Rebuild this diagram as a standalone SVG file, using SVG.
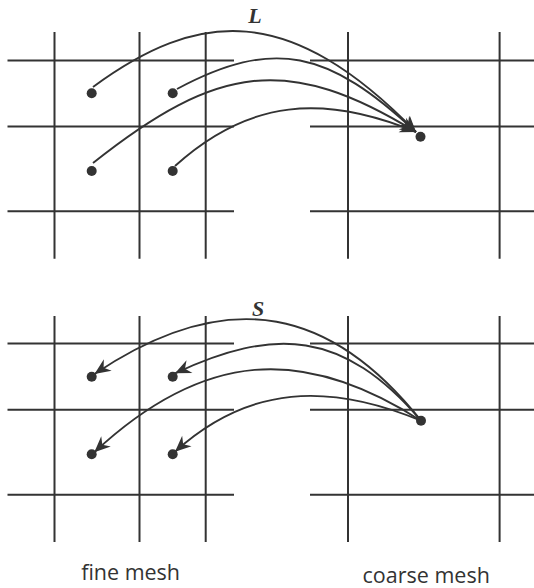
<svg xmlns="http://www.w3.org/2000/svg" width="534" height="588" viewBox="0 0 534 588">
<defs>
<style>
.g{stroke:#333;stroke-width:2;fill:none}
.c{stroke:#333;stroke-width:1.9;fill:none;marker-end:url(#ah)}
.d{fill:#333}
.lbl{font-family:"Open Sans","Noto Sans",sans-serif;font-size:21.5px;fill:#333;text-anchor:middle}
.op{font-family:"Liberation Serif","Times New Roman",serif;font-size:22px;font-weight:bold;font-style:italic;fill:#333;text-anchor:middle}
</style>
<marker id="ah" markerUnits="userSpaceOnUse" markerWidth="20" markerHeight="16" viewBox="-17 -8 20 16" refX="0" refY="0" orient="auto">
<path d="M0,0 L-16,-7 L-11,0 L-16,7 Z" fill="#333"/>
</marker>
</defs>
<g id="grid">
<g class="g">
<path d="M54.5,32V258.7M139.5,32V258.7M205.7,32V258.7M348,32V258.7M499.6,32V258.7"/>
<path d="M7.5,60.5H234M7.5,126.5H234M7.5,211.3H234M310,60.5H534M310,126.5H534M310,211.3H534"/>
<path d="M54.5,316V542M139.5,316V542M205.7,316V542M348,316V542M499.6,316V542"/>
<path d="M7.5,343.5H234M7.5,409.7H234M7.5,494.7H234M310,343.5H534M310,409.7H534M310,494.7H534"/>
</g>
</g>
<g id="connectors">
<path class="c" d="M93,87 C198,10 289,1.4 416,132"/>
<path class="c" d="M177,89 C274,37.3 328.4,50.4 416,132"/>
<path class="c" d="M93,163 C218,63.8 288.5,54 416,132"/>
<path class="c" d="M175,166 C249,99 324,94 416,132"/>
<path class="c" d="M421,420.7 C334.2,311.5 231.5,281.6 94.5,374"/>
<path class="c" d="M421,420.7 C343,329.5 274,327.1 175,373.3"/>
<path class="c" d="M421,420.7 C303.4,345.1 203.8,350.3 94.3,452.3"/>
<path class="c" d="M421,420.7 C329,382.7 249,384.7 175,451.7"/>
</g>
<g id="fine-top-1"><circle class="d" cx="91.7" cy="93.3" r="5"/></g>
<g id="fine-top-2"><circle class="d" cx="172.7" cy="93.3" r="5"/></g>
<g id="fine-top-3"><circle class="d" cx="91.7" cy="171" r="5"/></g>
<g id="fine-top-4"><circle class="d" cx="172.7" cy="171" r="5"/></g>
<g id="coarse-top"><circle class="d" cx="420.5" cy="136.7" r="5"/></g>
<g id="fine-bot-1"><circle class="d" cx="91.7" cy="376.7" r="5"/></g>
<g id="fine-bot-2"><circle class="d" cx="172.7" cy="376.7" r="5"/></g>
<g id="fine-bot-3"><circle class="d" cx="91.7" cy="454.3" r="5"/></g>
<g id="fine-bot-4"><circle class="d" cx="172.7" cy="454.3" r="5"/></g>
<g id="coarse-bot"><circle class="d" cx="421" cy="420.7" r="5"/></g>
<g id="labels">
<text class="op" x="255" y="22.7">L</text>
<text class="op" x="258" y="315.5">S</text>
<text class="lbl" x="130.6" y="580">fine mesh</text>
<text class="lbl" x="426.2" y="583">coarse mesh</text>
</g>
</svg>
